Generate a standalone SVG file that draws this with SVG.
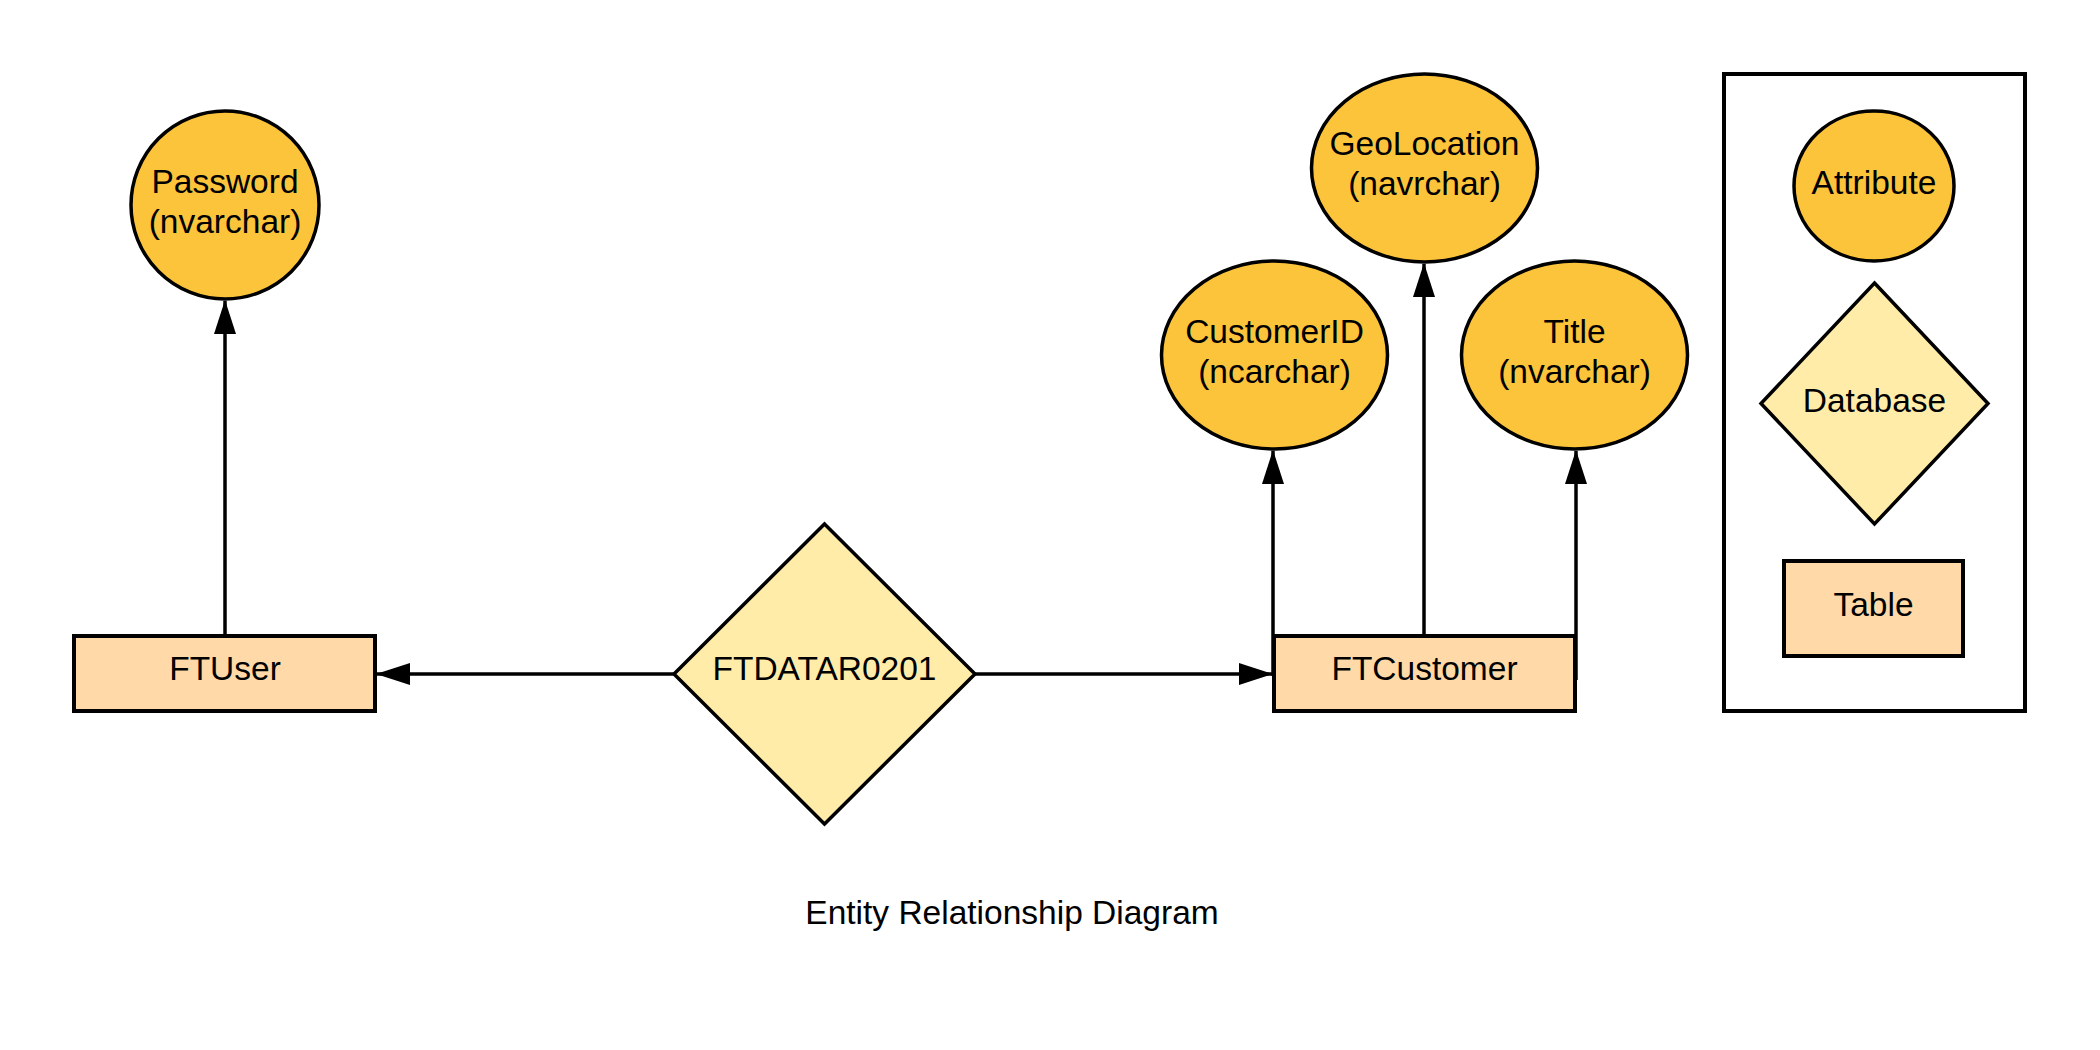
<svg xmlns="http://www.w3.org/2000/svg" width="2100" height="1050" viewBox="0 0 2100 1050">
<style>
.attr{fill:#fcc43a;stroke:#000;stroke-width:3.5}
.db{fill:#ffeca9;stroke:#000;stroke-width:3.5}
.tbl{fill:#ffdaa8;stroke:#000;stroke-width:4}
.legend{fill:#fff;stroke:#000;stroke-width:4}
text{font-family:"Liberation Sans",Arial,sans-serif;font-size:33.5px;fill:#000;text-anchor:middle}
.conn{stroke:#000;stroke-width:3.5;fill:none;marker-end:url(#arr)}
</style>
<defs>
<marker id="arr" markerUnits="userSpaceOnUse" markerWidth="34" markerHeight="22" refX="33" refY="11" orient="auto">
<path d="M0,0 L34,11 L0,22 Z" fill="#000"/>
</marker>
</defs>
<rect width="2100" height="1050" fill="#fff"/>
<g id="connectors">
<line class="conn" x1="225" y1="636" x2="225" y2="301"/>
<line class="conn" x1="674" y1="674" x2="377" y2="674"/>
<line class="conn" x1="975" y1="674" x2="1272" y2="674"/>
<line class="conn" x1="1273" y1="676" x2="1273" y2="451"/>
<line class="conn" x1="1424" y1="636" x2="1424" y2="264"/>
<line class="conn" x1="1576" y1="680" x2="1576" y2="451"/>
</g>
<g id="password">
<ellipse class="attr" cx="225" cy="205" rx="94" ry="94"/>
<text x="225" y="193">Password</text>
<text x="225" y="233">(nvarchar)</text>
</g>
<g id="ftuser">
<rect class="tbl" x="74" y="636" width="301" height="75"/>
<text x="225" y="680">FTUser</text>
</g>
<g id="ftdatar0201">
<polygon class="db" points="824.5,524 975,674 824.5,824 674,674"/>
<text x="824.5" y="680">FTDATAR0201</text>
</g>
<g id="ftcustomer">
<rect class="tbl" x="1274" y="636" width="301" height="75"/>
<text x="1424.5" y="680">FTCustomer</text>
</g>
<g id="customerid">
<ellipse class="attr" cx="1274.5" cy="355" rx="113" ry="94"/>
<text x="1274.5" y="343">CustomerID</text>
<text x="1274.5" y="383">(ncarchar)</text>
</g>
<g id="geolocation">
<ellipse class="attr" cx="1424.5" cy="168" rx="113" ry="94"/>
<text x="1424.5" y="155">GeoLocation</text>
<text x="1424.5" y="195">(navrchar)</text>
</g>
<g id="title">
<ellipse class="attr" cx="1574.5" cy="355" rx="113" ry="94"/>
<text x="1574.5" y="343">Title</text>
<text x="1574.5" y="383">(nvarchar)</text>
</g>
<g id="legend">
<rect class="legend" x="1724" y="74" width="301" height="637"/>
<g id="legend-attribute">
<ellipse class="attr" cx="1874" cy="186" rx="80" ry="75"/>
<text x="1874" y="194">Attribute</text>
</g>
<g id="legend-database">
<polygon class="db" points="1874.5,283 1988,403.5 1874.5,524 1761,403.5"/>
<text x="1874.5" y="412">Database</text>
</g>
<g id="legend-table">
<rect class="tbl" x="1784" y="561" width="179" height="95"/>
<text x="1873.5" y="616">Table</text>
</g>
</g>
<g id="caption">
<text x="1012" y="924">Entity Relationship Diagram</text>
</g>
</svg>
